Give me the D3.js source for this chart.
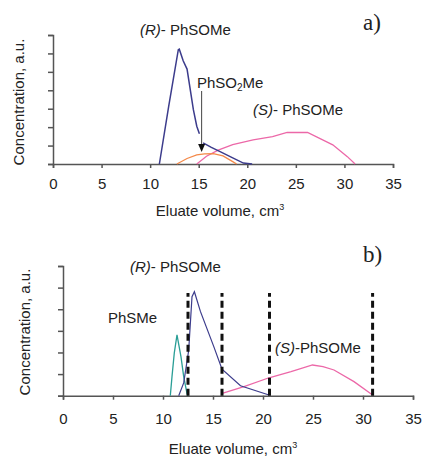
<!DOCTYPE html>
<html>
<head>
<meta charset="utf-8">
<script src="https://cdn.jsdelivr.net/npm/d3@7"></script>
<style>
  body { margin: 0; background: #fff; }
  svg text { font-family: "Liberation Sans", Arial, sans-serif; fill: #222; }
  .axis path, .axis line { stroke: #555; stroke-width: 1.5; }
  .axis text { font-size: 15px; fill: #222; }
</style>
</head>
<body>
<svg id="chart" width="422" height="458"></svg>
<script>
  // panel a) series, [volume cm3, concentration in tick units]
  var aR = [[10.95,0],[11.9,3.1],[12.9,6.2],[13.0,6.23],[13.4,5.6],[13.8,5.15],[14.45,2.95],[14.8,2.05],[15.07,1.64]];
  var aR2 = [[15.45,1.15],[16.3,0.9],[17.2,0.67],[18.5,0.33],[19.6,0.05],[20.5,0]];
  var aSO2 = [[12.75,0],[13.8,0.3],[14.8,0.49],[15.6,0.55],[16.5,0.56],[17.5,0.44],[18.5,0.13],[18.9,0]];
  var aS = [[14.8,0],[15.8,0.42],[17,0.75],[18.5,1.05],[20.6,1.31],[22.6,1.49],[24.1,1.71],[26.2,1.71],[27.5,1.38],[28.8,1.04],[30.3,0.4],[31.1,0]];

  // panel b) series
  var bSMe = [[10.73,0],[10.9,0.88],[11.13,1.98],[11.4,2.81],[11.8,1.8],[12.07,0.88],[12.4,0.1],[12.5,0]];
  var bR = [[11.57,0],[12.07,0.59],[12.57,2.1],[12.9,4.58],[13.14,4.81],[13.74,3.9],[15.08,2.27],[15.9,1.23],[17.75,0.46],[20.6,0.03]];
  var bS = [[15.92,0.11],[18.1,0.42],[20.6,0.83],[22.8,1.11],[24.95,1.42],[26.0,1.35],[27.1,1.19],[29.1,0.65],[30.96,0.03]];
  var bCuts = [12.5, 15.9, 20.65, 30.96];

  var xTicks = [0, 5, 10, 15, 20, 25, 30, 35];

  var svg = d3.select("#chart");
  var line = function (x, y) {
    return d3.line().x(function (d) { return x(d[0]); }).y(function (d) { return y(d[1]); });
  };

  function drawAxes(g, x, y, yMax, pad, titleX, titleY, yTitleX, yTitleY) {
    g.append("g").attr("class", "axis")
      .attr("transform", "translate(0," + y(0) + ")")
      .call(d3.axisBottom(x).tickValues(xTicks).tickSize(4).tickSizeOuter(4).tickPadding(pad));
    g.append("g").attr("class", "axis")
      .attr("transform", "translate(" + x(0) + ",0)")
      .call(d3.axisLeft(y).tickValues(d3.range(0, yMax + 1)).tickSize(5).tickSizeOuter(5).tickFormat(""));
    g.append("text").attr("x", titleX).attr("y", titleY)
      .attr("text-anchor", "middle").style("font-size", "15px")
      .text("Eluate volume, cm").append("tspan")
      .attr("dy", "-6").style("font-size", "9px").text("3");
    g.append("text").attr("transform", "translate(" + yTitleX + "," + yTitleY + ") rotate(-90)")
      .attr("text-anchor", "middle").style("font-size", "15px")
      .text("Concentration, a.u.");
  }

  function label(g, x, y, italic, rest) {
    var t = g.append("text").attr("x", x).attr("y", y).style("font-size", "15px");
    if (italic) t.append("tspan").style("font-style", "italic").text(italic);
    t.append("tspan").text(rest);
    return t;
  }

  // ---- panel a)
  var xa = d3.scaleLinear().domain([0, 35]).range([53, 393]);
  var ya = d3.scaleLinear().domain([0, 7]).range([164, 35]);
  var ga = svg.append("g");
  drawAxes(ga, xa, ya, 7, 10, 220, 216, 24, 102);

  ga.append("path").datum(aS).attr("d", line(xa, ya))
    .attr("fill", "none").attr("stroke", "#ec68a8").attr("stroke-width", 1.3);
  ga.append("path").datum(aSO2).attr("d", line(xa, ya))
    .attr("fill", "none").attr("stroke", "#f48a4a").attr("stroke-width", 1.3);
  [aR, aR2].forEach(function (s) {
    ga.append("path").datum(s).attr("d", line(xa, ya))
      .attr("fill", "none").attr("stroke", "#3c3c8c").attr("stroke-width", 1.5);
  });

  // arrow to PhSO2Me
  var ax = xa(15.3);
  ga.append("line").attr("x1", ax).attr("x2", ax).attr("y1", 91).attr("y2", 145)
    .attr("stroke", "#444").attr("stroke-width", 1);
  ga.append("path").attr("d", "M" + (ax - 3.5) + ",144 L" + (ax + 3.5) + ",144 L" + ax + ",152 Z")
    .attr("fill", "#111");

  label(ga, 140, 35, "(R)", "- PhSOMe");
  var so = label(ga, 197, 88, null, "PhSO");
  so.append("tspan").attr("dy", 3).style("font-size", "10px").text("2");
  so.append("tspan").attr("dy", -3).text("Me");
  label(ga, 253, 115, "(S)", "- PhSOMe");
  ga.append("text").attr("x", 363).attr("y", 30)
    .style("font-family", "'Liberation Serif', 'Times New Roman', serif").style("font-size", "23px")
    .text("a)");

  // ---- panel b)
  var xb = d3.scaleLinear().domain([0, 35]).range([63, 413]);
  var yb = d3.scaleLinear().domain([0, 6]).range([395.7, 266]);
  var gb = svg.append("g");
  drawAxes(gb, xb, yb, 6, 14, 233, 454, 30, 332);

  gb.append("path").datum(bS).attr("d", line(xb, yb))
    .attr("fill", "none").attr("stroke", "#ec68a8").attr("stroke-width", 1.3);
  gb.append("path").datum(bSMe).attr("d", line(xb, yb))
    .attr("fill", "none").attr("stroke", "#2a9e96").attr("stroke-width", 1.3);
  gb.append("path").datum(bR).attr("d", line(xb, yb))
    .attr("fill", "none").attr("stroke", "#3c3c8c").attr("stroke-width", 1.2);

  gb.selectAll(".cut").data(bCuts).enter().append("line").attr("class", "cut")
    .attr("x1", function (d) { return xb(d); }).attr("x2", function (d) { return xb(d); })
    .attr("y1", yb(0)).attr("y2", yb(4.75))
    .attr("stroke", "#111").attr("stroke-width", 3).attr("stroke-dasharray", "7,4");

  label(gb, 130, 272, "(R)", "- PhSOMe");
  label(gb, 108, 323, null, "PhSMe");
  label(gb, 275, 353, "(S)", "-PhSOMe");
  gb.append("text").attr("x", 363).attr("y", 262)
    .style("font-family", "'Liberation Serif', 'Times New Roman', serif").style("font-size", "23px")
    .text("b)");
</script>
</body>
</html>
